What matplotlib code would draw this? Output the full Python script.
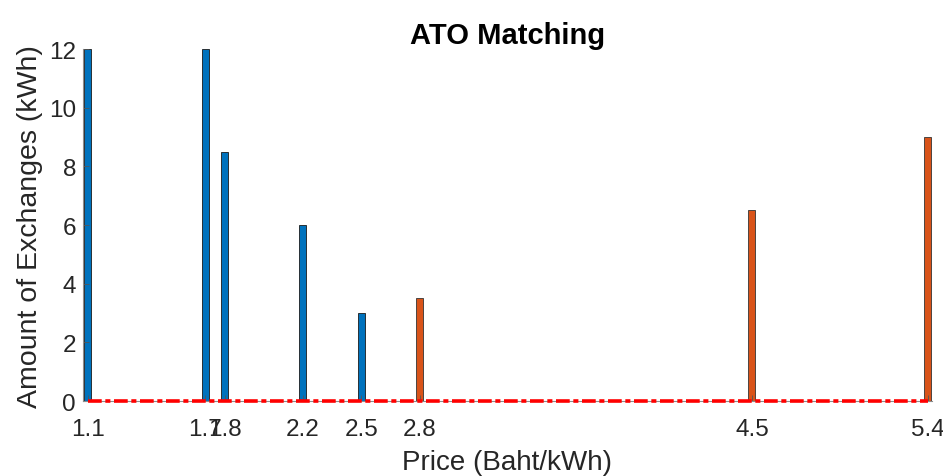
import matplotlib.pyplot as plt

plt.rcParams['font.family'] = ['Liberation Sans', 'DejaVu Sans']

# buy side (blue) and sell side (orange) prices / amounts
buy_price = [1.1, 1.7, 1.8, 2.2, 2.5]
buy_amount = [12, 12, 8.5, 6, 3]
sell_price = [2.8, 4.5, 5.4]
sell_amount = [3.5, 6.5, 9]
tick_prices = [1.1, 1.7, 1.8, 2.2, 2.5, 2.8, 4.5, 5.4]

fig = plt.figure(figsize=(9.43, 4.77), dpi=100)
ax = fig.add_axes([0.088, 0.157, 0.9, 0.738])

ax.bar(buy_price, buy_amount, width=0.036, color='#0072BD', edgecolor='#1a1a1a', linewidth=0.6)
ax.bar(sell_price, sell_amount, width=0.036, color='#D95319', edgecolor='#333333', linewidth=0.6)
ax.plot([tick_prices[0], tick_prices[-1]], [0, 0], color='red', lw=2.6, zorder=3,
        dashes=(3.8, 1.0, 1.4, 1.0), clip_on=False)

ax.set_xlim(1.075, 5.42)
ax.set_ylim(0, 12)
ax.set_xticks(tick_prices)
ax.set_xticklabels([str(p) for p in tick_prices])
ax.set_yticks(range(0, 13, 2))

for s in ['top', 'right']:
    ax.spines[s].set_visible(False)
for s in ['left', 'bottom']:
    ax.spines[s].set_color('#8c8c8c')
    ax.spines[s].set_linewidth(0.8)
ax.tick_params(direction='in', length=4, width=0.6, color='#555555',
               labelsize=17.5, labelcolor='#262626')
ax.tick_params(axis='x', pad=12)
ax.tick_params(axis='y', pad=5)

ax.set_xlabel('Price (Baht/kWh)', fontsize=20, color='#262626', labelpad=7)
ax.set_ylabel('Amount of Exchanges (kWh)', fontsize=20.5, color='#262626', labelpad=4)
ax.set_title('ATO Matching', fontsize=21, fontweight='bold', pad=4)

fig.savefig('out.png', dpi=100)
